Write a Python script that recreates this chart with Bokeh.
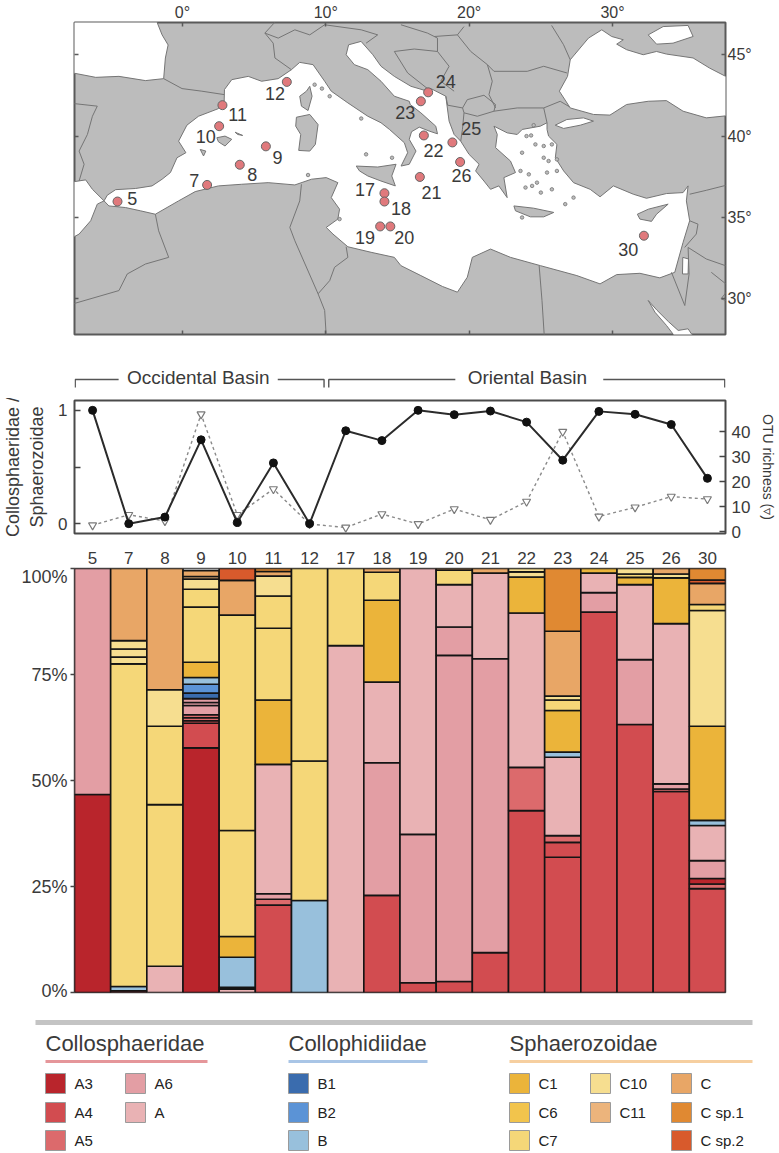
from bokeh.plotting import figure
from bokeh.layouts import column
from bokeh.models import (Range1d, FactorRange, LinearAxis, FixedTicker, ColumnDataSource)
from bokeh.core.properties import value
from bokeh.embed import file_html
from bokeh.resources import INLINE

FONT = "Liberation Sans"
TXT = "#3a3a3a"

# ---------- station data ----------
stations = ["5", "7", "8", "9", "10", "11", "12", "17", "18", "19", "20", "21", "22", "23", "24", "25", "26", "30"]
map_stations = stations
station_lon = [-4.53, 1.72, 4.0, 5.82, 2.56, 2.79, 7.28, 14.09, 14.09, 13.79, 14.5, 16.56, 16.84, 16.63, 17.14, 18.83, 19.37, 32.19]
station_lat = [35.98, 37.0, 38.24, 39.37, 40.61, 41.9, 43.33, 36.49, 35.98, 34.45, 34.45, 37.49, 40.04, 42.14, 42.69, 39.61, 38.41, 33.88]
label_lon = [-3.51, 0.82, 4.87, 6.63, 1.63, 3.85, 6.45, 12.74, 15.24, 12.74, 15.48, 17.37, 17.51, 15.54, 18.37, 20.15, 19.46, 31.1]
label_lat = [36.18, 37.29, 37.65, 38.67, 39.96, 41.33, 42.59, 36.73, 35.57, 33.78, 33.78, 36.53, 39.14, 41.43, 43.37, 40.45, 37.61, 33.06]

# ratio Collosphaeridae / Sphaerozoidae and OTU richness per station
ratio = [1.0, 0.0, 0.058, 0.74, 0.01, 0.536, 0.0, 0.82, 0.733, 1.0, 0.962, 0.994, 0.896, 0.56, 0.991, 0.965, 0.875, 0.4]
richness = [2.5, 6.7, 4.2, 47, 6.7, 17, 3, 1.6, 7, 3, 9, 4.7, 12, 40, 6, 9.7, 14, 13]

# ---------- relative abundance segments (bottom to top) ----------
seg_5 = [("A3", 46.7), ("A6", 53.3)]
seg_7 = [("A3", .4), ("B", 1.0), ("C7", 76.1), ("C10", 1.6), ("C10", 1.9), ("C10", 2.0), ("C", 17.0)]
seg_8 = [("A", 6.2), ("C7", 38.1), ("C7", 18.5), ("C10", 8.6), ("C", 28.6)]
seg_9 = [("A3", 57.7), ("A4", 5.8), ("A4", .6), ("A5", .7), ("A5", .7), ("A6", 2.2), ("A6", .7), ("A6", .9), ("B1", 1.3), ("B2", 2.1), ("B", 1.6),
         ("C1", 3.6), ("C7", 13.0), ("C7", 4.2), ("C10", 2.4), ("C11", .6), ("C", 1.4)]
seg_10 = [("A", .8), ("A6", .4), ("B", 7.1), ("C1", 4.9), ("C7", 25.0), ("C7", 50.8), ("C", 8.2), ("C sp.2", 2.8)]
seg_11 = [("A4", 20.6), ("A5", 1.4), ("A6", 1.3), ("A", 30.5), ("C1", 15.2), ("C7", 16.9), ("C7", 7.6), ("C10", 4.7), ("C", 1.1), ("C sp.1", .7)]
seg_12 = [("B", 21.7), ("C7", 32.9), ("C7", 45.4)]
seg_17 = [("A", 81.8), ("C7", 18.2)]
seg_18 = [("A4", 22.9), ("A6", 31.3), ("A", 19.0), ("C1", 19.3), ("C7", 6.6), ("C", .9)]
seg_19 = [("A4", 2.3), ("A6", 35.0), ("A", 62.7)]
seg_20 = [("A4", 2.6), ("A6", 76.9), ("A6", 6.7), ("A", 10.0), ("C7", 3.4), ("C", .4)]
seg_21 = [("A4", 9.4), ("A6", 69.3), ("A", 20.2), ("C", 1.1)]
seg_22 = [("A4", 42.9), ("A5", 10.2), ("A", 36.4), ("C1", 8.5), ("C10", 1.2), ("C10", .8)]
seg_23 = [("A4", 31.9), ("A4", 3.5), ("A5", 1.6), ("A", 18.5), ("B", 1.2), ("C1", 9.8), ("C7", 2.5), ("C10", .9), ("C", 15.3), ("C sp.1", 14.8)]
seg_24 = [("A4", 89.7), ("A6", 4.6), ("A", 4.6), ("C1", 1.1)]
seg_25 = [("A4", 63.2), ("A6", 15.3), ("A", 17.7), ("C1", 1.7), ("C7", .8), ("C10", 1.3)]
seg_26 = [("A4", 47.4), ("A5", .6), ("A6", 1.2), ("A", 37.8), ("C1", 10.8), ("C10", .9), ("C", 1.3)]
seg_30 = [("A4", 24.5), ("A5", 1.1), ("A3", 1.3), ("A6", 4.2), ("A", 8.3), ("B", 1.2), ("C1", 22.2), ("C10", 27.3), ("C7", 1.4), ("C", 5.0), ("C sp.2", .8), ("C sp.1", 2.7)]
segments = [seg_5, seg_7, seg_8, seg_9, seg_10, seg_11, seg_12, seg_17, seg_18, seg_19, seg_20, seg_21, seg_22, seg_23, seg_24, seg_25, seg_26, seg_30]

clade_colors = {"A3": "#b9252c", "A4": "#d24c50", "A5": "#dc6a6c", "A6": "#e39ea4", "A": "#e9b2b4",
                "B1": "#3a6cae", "B2": "#5b93d6", "B": "#98c0dc",
                "C1": "#ebb43a", "C6": "#f2c44c", "C7": "#f5d778", "C10": "#f6de90", "C11": "#ecb47c",
                "C": "#e8a666", "C sp.1": "#e08932", "C sp.2": "#d85a2c"}

# ---------- map geometry (degrees) ----------
med_lon = [-5.47, -5.24, -4.66, -3.28, -2.12, -1.42, -0.84, -0.38, 0.24, -0.27, 0.31, 1.12, 2.51, 2.91, 2.93, 3.44, 4.59, 5.52, 6.68, 7.60, 8.18, 9.11, 9.92, 10.38, 11.54, 12.93, 13.85, 14.44, 15.48, 15.71, 15.25, 15.82, 16.29, 15.82, 15.98, 16.52, 17.21, 17.79, 17.67, 16.63, 15.89, 15.82, 14.78, 13.85, 12.93, 11.99, 11.42, 11.59, 12.46, 13.28, 13.85, 14.78, 15.94, 17.09, 17.33, 18.37, 18.6, 18.95, 19.41, 19.99, 20.69, 20.45, 21.03, 21.49, 22.07, 22.65, 22.42, 23.23, 22.88, 21.84, 21.96, 21.73, 22.65, 23.35, 23.7, 24.96, 25.43, 25.43, 25.54, 26.12, 26.01, 26.59, 27.28, 28.44, 29.13, 30.06, 31.45, 32.37, 33.76, 34.92, 35.27, 35.15, 35.38, 34.92, 34.34, 33.30, 31.91, 30.29, 29.13, 27.51, 24.97, 22.88, 21.49, 20.22, 19.87, 19.18, 18.14, 16.63, 15.24, 14.78, 13.16, 11.54, 10.5, 10.03, 10.84, 10.96, 10.38, 10.84, 10.03, 9.0, 7.84, 5.98, 4.13, 2.51, 0.89, -0.27, -1.89, -2.93, -3.97, -5.13]
med_lat = [36.02, 36.37, 36.71, 36.78, 36.94, 37.35, 37.76, 38.67, 38.98, 39.69, 40.67, 41.22, 41.69, 42.14, 42.86, 43.47, 43.67, 43.37, 43.53, 44.08, 44.53, 44.39, 43.37, 42.76, 42.04, 41.22, 40.82, 40.41, 39.59, 38.98, 38.16, 38.27, 39.08, 39.80, 40.27, 40.55, 40.31, 40.14, 40.61, 41.43, 41.94, 42.14, 42.45, 43.37, 44.08, 44.39, 45.0, 45.61, 45.82, 45.0, 44.29, 43.67, 43.06, 42.76, 42.92, 42.45, 40.92, 40.1, 39.69, 38.88, 38.27, 37.86, 37.24, 36.73, 36.94, 36.22, 37.45, 37.76, 38.47, 39.29, 40.1, 40.61, 40.2, 40.1, 40.41, 40.61, 40.82, 40.41, 40.0, 39.49, 38.67, 37.86, 37.14, 36.73, 36.27, 36.94, 36.43, 36.18, 36.47, 36.53, 36.94, 36.02, 34.80, 33.47, 31.63, 31.29, 31.57, 31.49, 30.92, 31.43, 32.04, 32.55, 33.06, 32.55, 31.33, 30.41, 30.76, 31.43, 32.04, 32.55, 32.86, 33.2, 33.98, 34.39, 34.9, 35.51, 36.22, 37.14, 37.45, 37.35, 37.0, 37.14, 37.04, 36.94, 36.59, 36.02, 35.2, 35.41, 35.61, 35.71]

biscay_lon = [-8, -2.0, -1.42, -1.0, -1.19, -1.31, -2.58, -4.43, -6.05, -8]
biscay_lat = [47.5, 47.5, 46.22, 45.6, 44.8, 43.53, 43.41, 43.67, 43.61, 43.94]
atlantic_lon = [-8, -6.75, -6.28, -5.47, -5.94, -6.4, -7.21, -8]
atlantic_lat = [37.14, 37.31, 36.73, 36.02, 35.82, 34.8, 33.98, 33.6]
black_lon = [29.25, 28.32, 27.05, 26.86, 26.29, 27.05, 28.67, 29.82, 30.98, 32.49, 33.76, 34.92, 36.54, 38.2, 38.2, 36.77, 35.62, 33.76, 33.07, 32.14, 30.98, 30.29, 30.75, 29.94]
black_lat = [46.53, 46.02, 44.69, 43.67, 42.76, 41.73, 41.33, 41.29, 41.94, 42.14, 42.18, 41.53, 41.12, 41.27, 43.53, 44.18, 44.8, 45.04, 45.2, 45.0, 45.31, 45.65, 45.92, 46.12]
azov_lon = [32.49, 33.53, 35.27, 35.62, 34.22, 33.07]
azov_lat = [46.22, 46.73, 46.8, 46.12, 45.71, 45.65]
marmara_lon = [26.0, 26.81, 27.97, 28.67, 27.75, 26.59]
marmara_lat = [40.67, 41.02, 41.12, 40.92, 40.67, 40.47]
suez_lon = [32.49, 32.96, 33.76, 34.34, 35.62, 35.27, 34.58, 33.9, 33.1]
suez_lat = [29.9, 29.18, 28.37, 27.7, 27.7, 28.16, 28.06, 28.6, 29.3]
dead_lon = [34.9, 35.3, 35.27, 34.88]
dead_lat = [32.55, 32.45, 31.53, 31.53]

sicily_lon = [12.12, 13.62, 14.9, 14.6, 14.85, 13.85, 12.93, 12.35]
sicily_lat = [38.16, 38.1, 38.27, 37.55, 36.94, 37.24, 37.55, 37.86]
sardinia_lon = [7.95, 8.88, 9.46, 9.27, 8.88, 8.11, 8.25, 7.9]
sardinia_lat = [41.16, 41.33, 40.71, 39.49, 39.08, 39.12, 40.1, 40.61]
corsica_lon = [8.88, 9.04, 8.76, 8.3, 8.18, 8.65]
corsica_lat = [43.06, 42.45, 41.57, 41.84, 42.45, 42.76]
mallorca_lon = [2.4, 2.97, 3.44, 2.97, 2.51]
mallorca_lat = [39.9, 40.0, 39.8, 39.39, 39.65]
ibiza_lon = [1.24, 1.63, 1.47]
ibiza_lat = [39.18, 39.08, 38.78]
menorca_lon = [3.67, 4.2, 3.85]
menorca_lat = [40.24, 40.04, 40.1]
crete_lon = [23.12, 24.5, 25.9, 25.2, 24.27, 23.23]
crete_lat = [35.71, 35.57, 35.31, 35.04, 35.04, 35.41]
cyprus_lon = [31.73, 32.5, 33.88, 33.07, 32.72, 31.91]
cyprus_lat = [35.2, 35.51, 35.82, 35.2, 34.76, 34.9]
islet_lon = [24.5, 24.32, 24.0, 23.69, 24.62, 25.2, 25.54, 24.16, 24.73, 25.43, 26.12, 25.0, 25.77, 26.7, 23.69, 27.28, 25.2, 25.77, 26.12, 24.39, 23.93, 23.58, 9.22, 9.73, 10.27, 12.47, 14.62, 12.81, 10.96, 8.76]
islet_lat = [40.67, 40.04, 40.0, 38.98, 39.49, 38.67, 38.47, 37.65, 37.14, 37.76, 37.86, 36.53, 36.73, 35.82, 35.0, 36.22, 39.39, 39.49, 38.57, 36.94, 36.84, 37.86, 43.16, 42.92, 42.45, 41.08, 38.67, 38.88, 34.9, 37.61]

border_lons = [
    [-1.31, -0.03, 1.35, 2.91],
    [-8, -5.94, -6.28, -6.63, -7.21, -6.86, -7.21],
    [7.6, 6.45, 6.33, 5.75, 6.68, 7.84, 8.88, 9.92, 12.47, 13.62, 12.81],
    [5.75, 6.45],
    [14.78, 15.71, 17.09],
    [14.78, 16.17, 17.79, 18.6],
    [18.6, 18.02, 18.95],
    [15.24, 17.09, 17.79, 17.79],
    [17.57, 19.18, 19.64],
    [19.18, 20.11, 21.27],
    [21.27, 21.73, 24.05, 25.2, 26.82],
    [21.27, 21.61, 21.38, 21.84],
    [19.54, 19.87, 21.03, 21.84, 21.73, 20.57, 19.64, 19.54],
    [19.64, 19.53, 19.41],
    [21.73, 23.35, 25.2, 25.43],
    [25.2, 26.35, 27.0],
    [18.37, 18.5, 19.54],
    [25.75, 26.58, 27.05],
    [35.38, 36.54, 38.2],
    [35.38, 35.96, 35.84, 35.03],
    [35.27, 36.54, 38.2],
    [36.89, 38.2, 37.57, 38.2],
    [34.11, 35.04],
    [35.27, 35.34, 35.04],
    [24.88, 25.08, 25.24],
    [11.42, 11.54, 10.61, 10.27, 9.46, 9.92, 10.03],
    [8.3, 8.18, 7.49, 7.84, 9.46],
    [-1.89, -1.66, -0.96, -2.58, -3.85, -4.43, -8],
]
border_lats = [
    [43.53, 42.92, 42.76, 42.55],
    [42.04, 41.84, 41.22, 40.1, 39.08, 38.27, 37.24],
    [44.08, 44.8, 45.71, 46.33, 46.02, 46.53, 46.22, 46.84, 46.53, 46.22, 45.71],
    [46.33, 47.0],
    [45.2, 43.88, 42.92],
    [45.2, 45.35, 45.2, 44.29],
    [44.29, 43.37, 42.76],
    [46.84, 46.33, 46.02, 45.2],
    [46.12, 46.22, 46.73],
    [46.22, 45.2, 44.39],
    [44.39, 43.98, 43.98, 44.29, 43.88],
    [44.39, 43.37, 42.55, 41.73],
    [41.73, 42.24, 42.51, 41.94, 41.53, 41.22, 41.43, 41.73],
    [41.43, 40.41, 39.69],
    [41.53, 41.73, 41.73, 40.82],
    [41.73, 42.14, 41.8],
    [42.45, 41.9, 41.73],
    [46.8, 45.62, 44.69],
    [36.43, 36.67, 37.04],
    [34.8, 34.59, 33.98, 33.16],
    [33.16, 32.45, 31.94],
    [31.63, 30.71, 30.0, 29.8],
    [31.63, 29.59],
    [33.16, 31.53, 29.59],
    [32.04, 29.9, 27.7],
    [33.2, 32.55, 31.94, 31.12, 30.31, 29.29, 27.7],
    [37.04, 36.02, 34.39, 33.57, 30.31],
    [35.2, 34.18, 32.55, 32.14, 31.53, 30.51, 29.6],
]

# ---------- legend ----------
rule_color = "#c4c4c4"
legend_groups = [
    ("Collosphaeridae", 45, 207, "#e5969a"),
    ("Collophidiidae", 288, 427, "#a9c5e6"),
    ("Sphaerozoidae", 509, 752, "#f6cfa0"),
]
legend_items = [("A3", 45, 0), ("A4", 45, 1), ("A5", 45, 2), ("A6", 125, 0), ("A", 125, 1),
                ("B1", 288, 0), ("B2", 288, 1), ("B", 288, 2),
                ("C1", 509, 0), ("C6", 509, 1), ("C7", 509, 2), ("C10", 590, 0), ("C11", 590, 1),
                ("C", 671, 0), ("C sp.1", 671, 1), ("C sp.2", 671, 2)]
legend_rows = [83, 112, 140]

LAND = "#bcbcbc"
EDGE = "#757575"
FRAME = "#5a5a5a"

# ---------- map panel ----------
m = figure(width=779, height=345, x_range=Range1d(-7.53, 37.88), y_range=Range1d(27.81, 46.98),
           output_backend="svg", toolbar_location=None, x_axis_location=None, y_axis_location=None,
           min_border_left=72, min_border_right=53, min_border_top=21, min_border_bottom=11)
m.background_fill_color = LAND
m.grid.visible = False
m.outline_line_color = FRAME
m.outline_line_width = 2

for side, tick, ax_labels in (("above", [0, 10, 20, 30], True), ("below", [0, 10, 20, 30], False),
                              ("right", [30, 35, 40, 45], True), ("left", [30, 35, 40, 45], False)):
    ax = LinearAxis(ticker=FixedTicker(ticks=tick), major_label_overrides={t: f"{t}\u00b0" for t in tick})
    ax.axis_line_color = None
    ax.major_tick_in = 4
    ax.major_tick_out = 0
    ax.minor_tick_line_color = None
    ax.major_tick_line_color = FRAME
    ax.major_tick_line_width = 1.5
    ax.major_label_text_font = FONT
    ax.major_label_text_color = TXT
    if ax_labels:
        ax.major_label_text_font_size = "16px"
        ax.major_label_standoff = 2
    else:
        ax.major_label_text_font_size = "1px"
        ax.major_label_text_color = None
        ax.major_label_standoff = 0
    m.add_layout(ax, side)

waters_x = [med_lon, biscay_lon, atlantic_lon, black_lon, azov_lon, marmara_lon, suez_lon, dead_lon]
waters_y = [med_lat, biscay_lat, atlantic_lat, black_lat, azov_lat, marmara_lat, suez_lat, dead_lat]
m.patches(waters_x, waters_y, fill_color="white", line_color=EDGE, line_width=1)
m.multi_line(border_lons, border_lats, line_color=EDGE, line_width=1)
isl_x = [sicily_lon, sardinia_lon, corsica_lon, mallorca_lon, ibiza_lon, menorca_lon, crete_lon, cyprus_lon]
isl_y = [sicily_lat, sardinia_lat, corsica_lat, mallorca_lat, ibiza_lat, menorca_lat, crete_lat, cyprus_lat]
m.patches(isl_x, isl_y, fill_color=LAND, line_color=EDGE, line_width=1)
m.scatter(islet_lon, islet_lat, size=3.5, marker="circle", fill_color=LAND, line_color=EDGE, line_width=0.8)
m.scatter(station_lon, station_lat, size=9, marker="circle", fill_color="#e0797c", line_color="#666666", line_width=1)
m.text(label_lon, label_lat, text=map_stations, text_font=value(FONT), text_font_size="18px",
       text_color=TXT, text_align="center", text_baseline="middle")

# ---------- bracket panel ----------
b = figure(width=779, height=53, x_range=Range1d(0, 18), y_range=Range1d(53, 0),
           output_backend="svg", toolbar_location=None, x_axis_location=None, y_axis_location=None,
           min_border_left=72, min_border_right=53, min_border_top=0, min_border_bottom=0)
b.grid.visible = False
b.outline_line_color = None
bracket_y = 34
tick_y = 42
bracket_x = [[0.02, 0.02, 1.22], [5.62, 6.9, 6.9], [7.03, 7.03, 10.53], [14.62, 17.98, 17.98]]
bracket_v = [[tick_y, bracket_y, bracket_y], [bracket_y, bracket_y, tick_y],
             [tick_y, bracket_y, bracket_y], [bracket_y, bracket_y, tick_y]]
b.multi_line(bracket_x, bracket_v, line_color="#555555", line_width=1.4)
b.text([3.42, 12.52], [32, 32], text=["Occidental Basin", "Oriental Basin"], text_font=value(FONT),
       text_font_size="19px", text_color=TXT, text_align="center", text_baseline="middle")

# ---------- line panel ----------
l = figure(width=779, height=168, x_range=FactorRange(factors=stations), y_range=Range1d(-0.087, 1.087),
           output_backend="svg", toolbar_location=None, y_axis_location="left",
           min_border_left=72, min_border_right=53, min_border_top=2, min_border_bottom=31)
l.extra_y_ranges = {"otu": Range1d(-0.8, 52.5)}
l.grid.visible = False
l.outline_line_color = "#4a4a4a"
l.outline_line_width = 2
yl = l.yaxis[0]
yl.ticker = FixedTicker(ticks=[0, 0.5, 1])
yl.major_label_overrides = {0: "0", 0.5: "", 1: "1"}
yl.major_tick_in = 6
yl.major_tick_out = 0
yl.minor_tick_line_color = None
yl.axis_line_color = None
yl.major_tick_line_color = "#444444"
yl.major_tick_line_width = 1.5
yl.major_label_text_font = FONT
yl.major_label_text_font_size = "17px"
yl.major_label_text_color = TXT
yl.major_label_standoff = 7
yl.axis_label = "Collosphaeridae /\nSphaerozoidae"
yl.axis_label_text_font = FONT
yl.axis_label_text_font_style = "normal"
yl.axis_label_text_font_size = "18px"
yl.axis_label_text_color = TXT
yl.axis_label_standoff = 8
xl = l.xaxis[0]
xl.axis_line_color = None
xl.major_tick_line_color = None
xl.major_label_text_font = FONT
xl.major_label_text_font_size = "17px"
xl.major_label_text_color = TXT
xl.major_label_standoff = 12
yr = LinearAxis(y_range_name="otu", ticker=FixedTicker(ticks=[0, 10, 20, 30, 40]))
yr.major_tick_in = 6
yr.major_tick_out = 0
yr.minor_tick_line_color = None
yr.axis_line_color = None
yr.major_tick_line_color = "#444444"
yr.major_tick_line_width = 1.5
yr.major_label_text_font = FONT
yr.major_label_text_font_size = "17px"
yr.major_label_text_color = TXT
yr.major_label_standoff = 6
yr.axis_label = "OTU richness (\u25bf)"
yr.axis_label_text_font = FONT
yr.axis_label_text_font_style = "normal"
yr.axis_label_text_font_size = "14px"
yr.axis_label_text_color = TXT
yr.axis_label_standoff = 7
l.add_layout(yr, "right")
l.line(stations, richness, y_range_name="otu", line_color="#8a8a8a", line_width=1.4, line_dash="3 3")
l.scatter(stations, richness, y_range_name="otu", marker="inverted_triangle", size=8,
          fill_color="white", line_color="#7a7a7a", line_width=1.2)
l.line(stations, ratio, line_color="#2b2b2b", line_width=2)
l.scatter(stations, ratio, marker="circle", size=8, fill_color="#111111", line_color="#111111")

# ---------- stacked bars ----------
rows = {"station": [], "bottom": [], "top": [], "color": []}
for st, seg in zip(stations, segments):
    base = 0.0
    for clade, v in seg:
        rows["station"].append(st)
        rows["bottom"].append(base)
        base += v
        rows["top"].append(base)
        rows["color"].append(clade_colors[clade])
s = figure(width=779, height=434, x_range=FactorRange(factors=stations), y_range=Range1d(0, 100),
           output_backend="svg", toolbar_location=None, x_axis_location=None,
           min_border_left=72, min_border_right=53, min_border_top=2, min_border_bottom=8)
s.grid.visible = False
s.outline_line_color = "#555555"
s.outline_line_width = 1.5
s.vbar(x="station", bottom="bottom", top="top", width=1.0, fill_color="color",
       line_color="#141414", line_width=1.6, source=ColumnDataSource(rows))
ya = s.yaxis[0]
ya.ticker = FixedTicker(ticks=[0, 25, 50, 75, 100])
ya.major_label_overrides = {t: f"{t}%" for t in [0, 25, 50, 75, 100]}
ya.axis_line_color = None
ya.minor_tick_line_color = None
ya.major_tick_in = 0
ya.major_tick_out = 4
ya.major_tick_line_color = "#444444"
ya.major_tick_line_width = 1.5
ya.major_label_text_font = FONT
ya.major_label_text_font_size = "18px"
ya.major_label_text_color = TXT
ya.major_label_standoff = 3

# ---------- legend ----------
g = figure(width=779, height=153, x_range=Range1d(0, 779), y_range=Range1d(153, 0),
           output_backend="svg", toolbar_location=None, x_axis_location=None, y_axis_location=None,
           min_border_left=0, min_border_right=0, min_border_top=0, min_border_bottom=0)
g.frame_align = False
g.grid.visible = False
g.outline_line_color = None
g.line([35, 752], [22, 22], line_color=rule_color, line_width=5)
for name, x0, x1, col in legend_groups:
    g.text([x0], [43], text=[name], text_font=value(FONT), text_font_size="22px", text_color=TXT,
           text_align="left", text_baseline="middle")
    g.line([x0, x1], [61, 61], line_color=col, line_width=3)
for name, x, r in legend_items:
    y = legend_rows[r]
    g.rect([x + 10], [y], width=20, height=20, fill_color=clade_colors[name], line_color="#9a9a9a", line_width=1)
    g.text([x + 29], [y], text=[name], text_font=value(FONT), text_font_size="15px", text_color="#222222",
           text_align="left", text_baseline="middle")

page = column(m, b, l, s, g, spacing=0)
open("out.html", "w").write(file_html(page, INLINE))
